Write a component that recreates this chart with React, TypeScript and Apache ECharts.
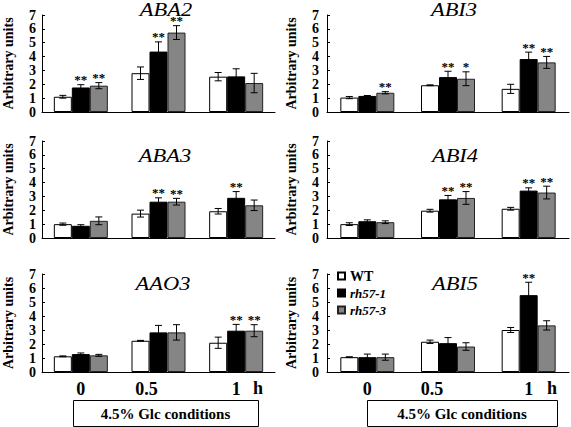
import React, { useEffect, useRef } from 'react';
import * as echarts from 'echarts';

const times = ['0', '0.5', '1'];
const lines = ['WT', 'rh57-1', 'rh57-3'];
const genes = ['ABA2', 'ABI3', 'ABA3', 'ABI4', 'AAO3', 'ABI5'];
const boxLabel = '4.5% Glc conditions';
const unitLabel = 'h';
const yName = 'Arbitrary units';

// rows: WT, rh57-1, rh57-3 ; columns: 0, 0.5, 1 h
const aba2Mean = [[1.1, 2.8, 2.55], [1.77, 4.36, 2.57], [1.9, 5.73, 2.09]];
const aba2Err = [[0.1, 0.45, 0.3], [0.2, 0.7, 0.55], [0.22, 0.5, 0.7]];
const aba2Sig = [['', '', ''], ['**', '**', ''], ['**', '**', '']];

const abi3Mean = [[1.04, 1.93, 1.67], [1.16, 2.52, 3.82], [1.39, 2.4, 3.58]];
const abi3Err = [[0.08, 0.03, 0.33], [0.03, 0.42, 0.5], [0.08, 0.5, 0.43]];
const abi3Sig = [['', '', ''], ['', '**', '**'], ['**', '*', '**']];

const aba3Mean = [[1.0, 1.76, 1.93], [0.88, 2.62, 2.9], [1.24, 2.62, 2.36]];
const aba3Err = [[0.08, 0.25, 0.2], [0.08, 0.28, 0.45], [0.28, 0.24, 0.38]];
const aba3Sig = [['', '', ''], ['', '**', '**'], ['', '**', '']];

const abi4Mean = [[1.0, 1.97, 2.11], [1.21, 2.79, 3.42], [1.14, 2.89, 3.28]];
const abi4Err = [[0.1, 0.1, 0.1], [0.1, 0.28, 0.2], [0.1, 0.46, 0.46]];
const abi4Sig = [['', '', ''], ['', '**', '**'], ['', '**', '**']];

const aao3Mean = [[1.12, 2.23, 2.09], [1.28, 2.83, 2.95], [1.19, 2.83, 2.95]];
const aao3Err = [[0.03, 0.03, 0.4], [0.08, 0.5, 0.45], [0.07, 0.55, 0.43]];
const aao3Sig = [['', '', ''], ['', '', '**'], ['', '', '**']];

const abi5Mean = [[1.06, 2.16, 3.0], [1.06, 2.06, 5.49], [1.06, 1.82, 3.33]];
const abi5Err = [[0.03, 0.12, 0.18], [0.22, 0.4, 0.92], [0.22, 0.27, 0.33]];
const abi5Sig = [['', '', ''], ['', '', '**'], ['', '', '']];

const means = [aba2Mean, abi3Mean, aba3Mean, abi4Mean, aao3Mean, abi5Mean];
const errs = [aba2Err, abi3Err, aba3Err, abi4Err, aao3Err, abi5Err];
const sigs = [aba2Sig, abi3Sig, aba3Sig, abi4Sig, aao3Sig, abi5Sig];

const FONT = 'Liberation Serif, Times New Roman, serif';
const BAR_W = 18;
const colLeft = [34, 327];
const colWidth = [241, 242];
const rowTop = [15, 141, 274];
const rowHeight = [97, 97, 98];
const titlePos = [[166, 0], [454, 0], [165, 146], [455, 146], [163, 274], [455, 274]];
const barColors = ['#ffffff', '#000000', '#858585'];
const barBorders = ['#000000', '#000000', '#222222'];

export default function App() {
  const ref = useRef<HTMLDivElement>(null);
  useEffect(() => {
    if (!ref.current) return;
    const chart = echarts.init(ref.current, undefined, { renderer: 'svg' });
    const grids: any[] = [];
    const xAxes: any[] = [];
    const yAxes: any[] = [];
    const series: any[] = [];
    const graphics: any[] = [];

    genes.forEach((g, gi) => {
      const col = gi % 2;
      const row = Math.floor(gi / 2);
      grids.push({ left: colLeft[col], top: rowTop[row], width: colWidth[col], height: rowHeight[row] });
      const pad = col === 0 ? 24 : 32;
      xAxes.push({
        gridIndex: gi,
        type: 'category',
        data: times,
        axisLine: { lineStyle: { color: '#000', width: 1 } },
        axisTick: { show: false },
        axisLabel: {
          show: row === 2,
          margin: 8,
          formatter: (v: string) => (v === '0.5' ? `{s|${v}}` : `{n|${v}}`),
          rich: {
            s: { fontFamily: FONT, fontWeight: 'bold', fontSize: 18, color: '#000', padding: [0, pad, 0, 0] },
            n: { fontFamily: FONT, fontWeight: 'bold', fontSize: 18, color: '#000' },
          },
        },
      });
      yAxes.push({
        gridIndex: gi,
        type: 'value',
        min: 0,
        max: 7,
        interval: 1,
        axisLine: { show: true, lineStyle: { color: '#000', width: 1 } },
        axisTick: { show: true, inside: true, length: 3, lineStyle: { color: '#000' } },
        splitLine: { show: false },
        axisLabel: {
          fontFamily: FONT,
          fontWeight: 'bold',
          fontSize: 14,
          lineHeight: 12,
          color: '#000',
          margin: col === 0 ? 6 : 8,
          showMaxLabel: true,
          showMinLabel: true,
          hideOverlap: false,
        },
        name: yName,
        nameLocation: 'middle',
        nameGap: col === 0 ? 27 : 29,
        nameTextStyle: { fontFamily: FONT, fontWeight: 'bold', fontSize: 14, color: '#000' },
      });
      lines.forEach((ln, li) => {
        series.push({
          type: 'bar',
          name: ln,
          xAxisIndex: gi,
          yAxisIndex: gi,
          barWidth: BAR_W,
          barGap: '0%',
          data: means[gi][li],
          itemStyle: { color: barColors[li], borderColor: barBorders[li], borderWidth: 1 },
        });
      });
      lines.forEach((ln, li) => {
        // error bars
        series.push({
          type: 'custom',
          name: 'err-' + ln,
          xAxisIndex: gi,
          yAxisIndex: gi,
          z: 5,
          silent: true,
          data: times.map((t, k) => [k, means[gi][li][k], errs[gi][li][k]]),
          renderItem: (params: any, api: any) => {
            const k = api.value(0);
            const m = api.value(1);
            const e = api.value(2);
            const base = api.coord([k, m]);
            const x = base[0] + (li - 1) * BAR_W;
            const yt = api.coord([k, m + e])[1];
            const yb = api.coord([k, m - e])[1];
            const st = { stroke: '#000', lineWidth: 1 };
            return {
              type: 'group',
              children: [
                { type: 'line', shape: { x1: x, y1: yt, x2: x, y2: yb }, style: st },
                { type: 'line', shape: { x1: x - 3.5, y1: yt, x2: x + 3.5, y2: yt }, style: st },
                { type: 'line', shape: { x1: x - 3.5, y1: yb, x2: x + 3.5, y2: yb }, style: st },
              ],
            };
          },
        });
        // significance stars
        const starData = times
          .map((t, k) => ({ name: sigs[gi][li][k], value: [k, means[gi][li][k] + errs[gi][li][k]] }))
          .filter((d) => d.name);
        if (starData.length) {
          series.push({
            type: 'scatter',
            name: 'sig-' + ln,
            xAxisIndex: gi,
            yAxisIndex: gi,
            z: 6,
            silent: true,
            symbol: 'circle',
            symbolSize: 1,
            itemStyle: { color: 'rgba(0,0,0,0)' },
            data: starData,
            label: {
              show: true,
              position: 'top',
              distance: -2,
              offset: [(li - 1) * BAR_W, 0],
              formatter: '{b}',
              fontFamily: FONT,
              fontWeight: 'bold',
              fontSize: 13,
              color: '#000',
              opacity: 1,
            },
          });
        }
      });
      graphics.push({
        type: 'text',
        x: titlePos[gi][0],
        y: titlePos[gi][1],
        scaleX: 1.18,
        style: {
          text: g,
          fontFamily: FONT,
          fontStyle: 'italic',
          fontSize: 19,
          fill: '#000',
          align: 'center',
          verticalAlign: 'top',
        },
      });
    });

    // bottom boxes and "h" labels
    [[73, 185], [367, 190]].forEach(([x, w]) => {
      graphics.push({ type: 'rect', shape: { x: x + 0.5, y: 400.5, width: w, height: 26 }, style: { fill: '#fff', stroke: '#000', lineWidth: 1 } });
      graphics.push({
        type: 'text',
        x: x + w / 2,
        y: 414,
        style: { text: boxLabel, fontFamily: FONT, fontWeight: 'bold', fontSize: 15, fill: '#000', align: 'center', verticalAlign: 'middle' },
      });
    });
    [258, 552].forEach((x) => {
      graphics.push({
        type: 'text',
        x,
        y: 388,
        style: { text: unitLabel, fontFamily: FONT, fontWeight: 'bold', fontSize: 18, fill: '#000', align: 'center', verticalAlign: 'middle' },
      });
    });

    chart.setOption({
      animation: false,
      backgroundColor: '#fff',
      grid: grids,
      xAxis: xAxes,
      yAxis: yAxes,
      series,
      legend: {
        data: lines,
        orient: 'vertical',
        left: 337,
        top: 269,
        padding: 0,
        itemWidth: 7,
        itemHeight: 7,
        itemGap: 3,
        icon: 'rect',
        selectedMode: false,
        formatter: (n: string) => (n === 'WT' ? `{r|${n}}` : `{i|${n}}`),
        textStyle: {
          fontFamily: FONT,
          fontWeight: 'bold',
          fontSize: 13,
          lineHeight: 14,
          color: '#000',
          rich: {
            r: { fontFamily: FONT, fontWeight: 'bold', fontSize: 14, lineHeight: 14, color: '#000' },
            i: { fontFamily: FONT, fontWeight: 'bold', fontStyle: 'italic', fontSize: 13, lineHeight: 14, color: '#000' },
          },
        },
      },
      graphic: graphics,
    });
    return () => chart.dispose();
  }, []);
  return <div ref={ref} style={{ position: 'fixed', left: 0, top: 0, width: 571, height: 427, background: '#fff' }} />;
}
